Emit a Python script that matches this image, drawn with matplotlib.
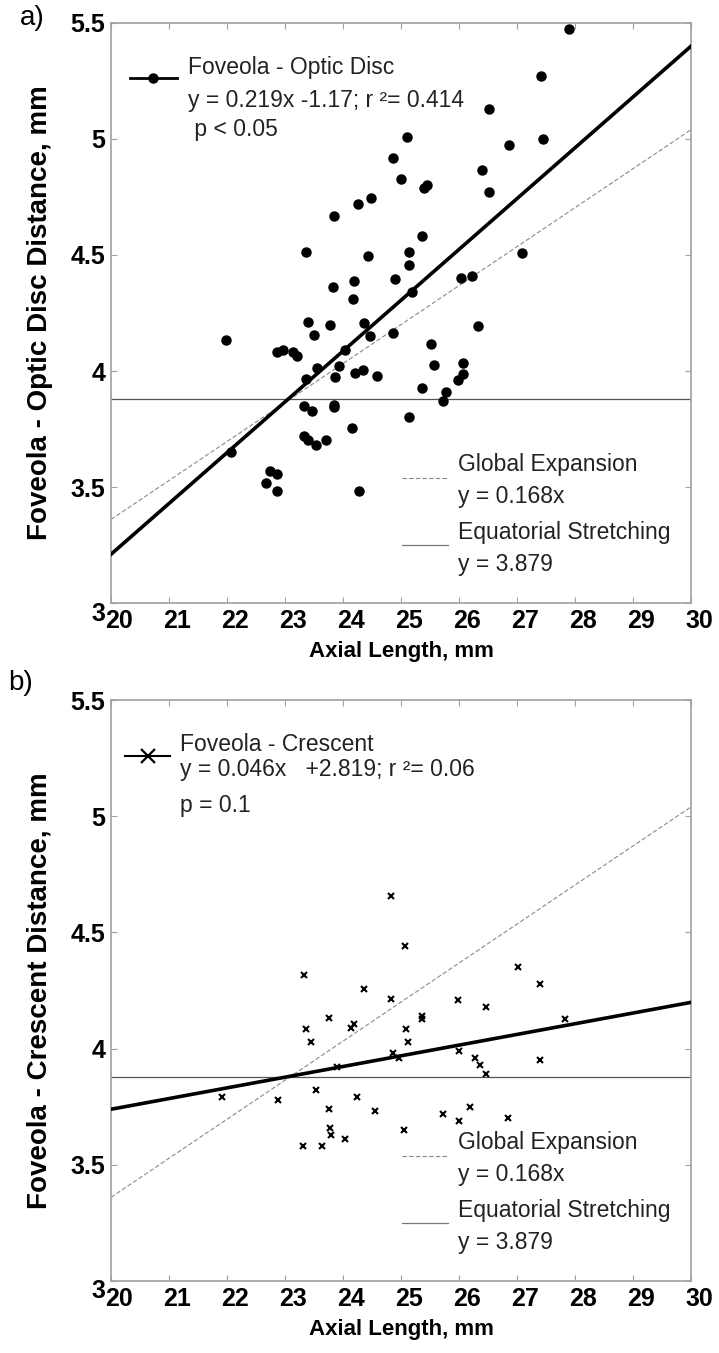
import numpy as np
import matplotlib
matplotlib.use("Agg")
import matplotlib.pyplot as plt
import matplotlib.transforms as mtransforms

plt.rcParams['font.family'] = ['Liberation Sans', 'DejaVu Sans']

# panel a: foveola - optic disc distance vs axial length
axial_a = [27.90, 27.41, 26.51, 26.87, 27.45, 26.39, 26.51, 25.40, 25.44, 25.37,
           27.08, 26.03, 26.22, 26.33, 24.87, 24.47, 25.51, 25.57, 26.07, 24.58,
           25.37, 26.07, 25.99, 25.77, 25.73, 25.13, 21.98, 23.50, 22.87, 22.96,
           23.13, 23.20, 24.03, 23.93, 23.86, 23.56, 23.36, 24.21, 24.35, 23.33,
           23.47, 23.85, 23.85, 23.33, 23.40, 23.54, 23.70, 24.15, 22.07, 22.74,
           22.87, 22.67, 22.87, 24.28, 25.11, 24.87, 25.00, 24.48, 24.25, 23.85,
           23.36, 25.13, 25.13, 24.43, 23.83, 24.19, 24.17, 24.89, 25.19, 23.40,
           23.78, 24.37]
dist_a = [5.475, 5.27, 5.128, 4.975, 5.00, 4.866, 4.77, 4.79, 4.80, 4.58,
          4.51, 4.40, 4.41, 4.195, 4.162, 4.15, 4.115, 4.025, 4.035, 3.98,
          3.925, 3.985, 3.96, 3.91, 3.872, 3.80, 4.135, 4.156, 4.084, 4.089,
          4.084, 4.063, 4.09, 4.02, 3.976, 4.015, 3.965, 3.991, 4.005, 3.847,
          3.826, 3.854, 3.845, 3.718, 3.704, 3.682, 3.704, 3.754, 3.650, 3.567,
          3.557, 3.517, 3.481, 3.481, 5.007, 4.918, 4.827, 4.747, 4.721, 4.666,
          4.513, 4.515, 4.458, 4.497, 4.362, 4.386, 4.311, 4.398, 4.341, 4.213,
          4.198, 4.209]

# panel b: foveola - crescent distance vs axial length
axial_b = [24.83, 25.07, 23.33, 24.37, 24.83, 25.99, 26.47, 23.76, 25.36, 25.37,
           24.19, 24.14, 23.36, 25.09, 27.02, 27.40, 27.83, 21.91, 22.88, 23.45,
           23.31, 23.53, 23.76, 23.78, 23.79, 23.64, 24.03, 23.90, 24.24, 24.55,
           24.86, 24.96, 25.05, 25.12, 25.72, 26.00, 26.00, 26.19, 26.28, 26.36,
           26.47, 26.84, 27.40]
dist_b = [4.657, 4.442, 4.317, 4.258, 4.212, 4.208, 4.179, 4.133, 4.140, 4.126,
          4.104, 4.090, 4.083, 4.083, 4.353, 4.279, 4.126, 3.79, 3.78, 4.03,
          3.58, 3.82, 3.74, 3.66, 3.63, 3.58, 3.61, 3.92, 3.79, 3.73,
          3.98, 3.96, 3.65, 4.03, 3.72, 3.99, 3.69, 3.75, 3.96, 3.93,
          3.89, 3.70, 3.95]

# fitted lines and reference models
fit_a = (0.219, -1.17)
fit_b = (0.046, 2.819)
global_slope = 0.168
equatorial_y = 3.879
x_range = [20, 30]

text_a = ["Foveola - Optic Disc", "y = 0.219x -1.17; r \u00b2= 0.414", " p < 0.05"]
text_b = ["Foveola - Crescent", "y = 0.046x   +2.819; r \u00b2= 0.06", "p = 0.1"]
ylabels = ["Foveola - Optic Disc Distance, mm", "Foveola - Crescent Distance, mm"]

W, H = 719, 1353
fig = plt.figure(figsize=(W / 100, H / 100), dpi=100)

FRAME = "#a0a0a0"
TXT = 16.5


def shift(artist, dx, dy):
    # nudge a text by dx, dy pixels
    artist.set_transform(artist.get_transform() +
                         mtransforms.ScaledTranslation(dx / 100, dy / 100, fig.dpi_scale_trans))


def setup_axes(ax, ylabel):
    ax.set_xlim(20, 30)
    ax.set_ylim(3, 5.5)
    ax.set_xticks(np.arange(20, 31, 1))
    ax.set_yticks([3, 3.5, 4, 4.5, 5, 5.5])
    ax.set_yticklabels(['3', '3.5', '4', '4.5', '5', '5.5'])
    for s in ax.spines.values():
        s.set_color(FRAME)
        s.set_linewidth(1.2)
    ax.tick_params(direction='in', length=4, width=0.8, color=FRAME,
                   top=True, right=True, pad=4)
    for lab in ax.get_xticklabels() + ax.get_yticklabels():
        lab.set_fontweight('bold')
        lab.set_fontsize(18)
    # x labels sit a little right of their ticks, the bottom "3" a bit lower
    for lab in ax.get_xticklabels():
        shift(lab, 8, 0)
    shift(ax.get_yticklabels()[0], 0, -8)
    ax.set_xlabel("Axial Length, mm", fontsize=16, fontweight='bold')
    ax.xaxis.set_label_coords(0.5, -0.083)
    ax.xaxis.label.set_va('center')
    ax.set_ylabel(ylabel, fontsize=20, fontweight='bold')
    ax.yaxis.set_label_coords(-0.123, 0.5)
    ax.yaxis.label.set_va('center')


def draw_models(ax):
    xs = np.array(x_range)
    ax.plot(xs, global_slope * xs, ls=(0, (4, 2)), lw=0.8, color='#8a8a8a', zorder=2)
    ax.axhline(equatorial_y, lw=0.9, color='#555555', zorder=2)


def draw_legend_lower(ax):
    tr = ax.transAxes
    ax.plot([0.502, 0.581], [0.216, 0.216], transform=tr, ls=(0, (4, 2)),
            lw=0.8, color='#8a8a8a')
    ax.plot([0.502, 0.581], [0.100, 0.100], transform=tr, lw=0.9, color='#777777')
    kw = dict(transform=tr, fontsize=TXT, va='center', ha='left', color='#222222')
    ax.text(0.598, 0.238, "Global Expansion", **kw)
    ax.text(0.598, 0.183, "y = 0.168x", **kw)
    ax.text(0.598, 0.121, "Equatorial Stretching", **kw)
    ax.text(0.598, 0.066, "y = 3.879", **kw)


# ---- panel a ----
ax1 = fig.add_axes([111 / W, 1 - 603 / H, 580 / W, 580 / H])
draw_models(ax1)
xs = np.array(x_range)
ax1.plot(xs, fit_a[0] * xs + fit_a[1], color='black', lw=2.6, zorder=3)
ax1.plot(axial_a, dist_a, 'o', color='black', ms=6.5, zorder=4)
setup_axes(ax1, ylabels[0])
tr = ax1.transAxes
ax1.plot([0.033, 0.114], [0.905, 0.905], transform=tr, color='black', lw=2)
ax1.plot([0.073], [0.905], 'o', transform=tr, color='black', ms=6.5)
kw = dict(transform=tr, fontsize=TXT, va='center', ha='left', color='#222222')
ax1.text(0.133, 0.924, text_a[0], **kw)
ax1.text(0.133, 0.867, text_a[1], **kw)
ax1.text(0.133, 0.816, text_a[2], **kw)
draw_legend_lower(ax1)

# ---- panel b ----
ax2 = fig.add_axes([111 / W, 1 - 1281 / H, 580 / W, 581 / H])
draw_models(ax2)
ax2.plot(xs, fit_b[0] * xs + fit_b[1], color='black', lw=2.6, zorder=3)
ax2.plot(axial_b, dist_b, 'x', color='black', ms=5, mew=1.5, zorder=4)
setup_axes(ax2, ylabels[1])
tr = ax2.transAxes
ax2.plot([0.024, 0.102], [0.904, 0.904], transform=tr, color='black', lw=1.5)
ax2.plot([0.064], [0.904], 'x', transform=tr, color='black', ms=10, mew=1.6)
kw['transform'] = tr
ax2.text(0.119, 0.923, text_b[0], **kw)
ax2.text(0.119, 0.880, text_b[1], **kw)
ax2.text(0.119, 0.819, text_b[2], **kw)
draw_legend_lower(ax2)

# panel letters
fig.text(20 / W, 1 - 18 / H, "a)", fontsize=20, va='center', ha='left')
fig.text(8 / W, 1 - 683 / H, "b)", fontsize=20, va='center', ha='left')

fig.savefig("out.png", dpi=100)
